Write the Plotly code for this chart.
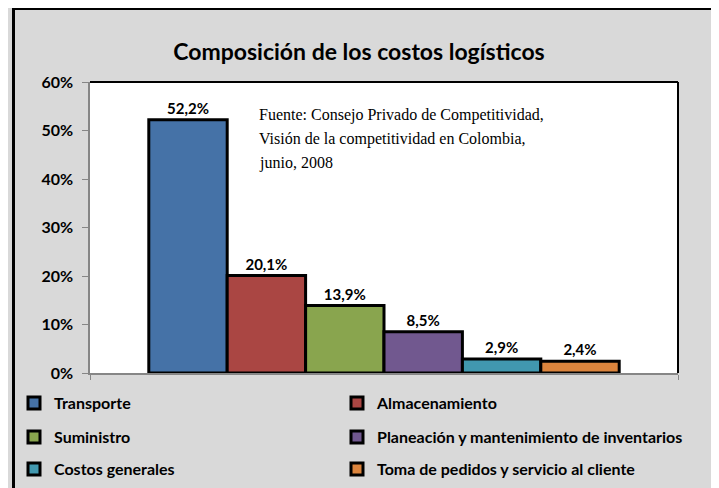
import plotly.graph_objects as go

# ---- data ----
categories = ["Transporte", "Almacenamiento", "Suministro",
              "Planeación y mantenimiento de inventarios",
              "Costos generales", "Toma de pedidos y servicio al cliente"]
values = [0.522, 0.201, 0.139, 0.085, 0.029, 0.024]
colors = ["#4572A7", "#AA4643", "#89A54E", "#71588F", "#4198AF", "#DB843D"]
tick_vals = [0, 0.1, 0.2, 0.3, 0.4, 0.5, 0.6]
title_text = "Composición de los costos logísticos"
source_lines = ["Fuente: Consejo Privado de Competitividad,",
                "Visión de la competitividad en Colombia,",
                "junio, 2008"]

# page body has an 8px margin; figure drawn from (8, 8)
OFF = 8
W, H = 719 - OFF, 488 - OFF
# plot area in page pixels
PL, PR, PT, PB = 90, 678, 82, 373
L, R, T, B = PL - OFF, W - (PR - OFF), PT - OFF, H - (PB - OFF)
PW, PH = W - L - R, H - T - B

def px(x):  # page x -> paper
    return (x - PL) / PW

def py(y):  # page y -> paper
    return (PB - y) / PH

def cx(x):  # page x -> container fraction
    return (x - OFF) / W

def cy(y):  # page y -> container fraction
    return 1 - (y - OFF) / H

FONT = "Lato, 'Open Sans', sans-serif"

legend_pos = [(14, 403), (337, 403), (14, 437), (337, 437), (14, 469), (337, 469)]

fig = go.Figure()
layout_legends = {}
for i, (name, v, c) in enumerate(zip(categories, values, colors)):
    lname = "legend" if i == 0 else f"legend{i + 1}"
    fig.add_trace(go.Bar(
        x=[""], y=[v], name=name,
        marker=dict(color=c, line=dict(color="black", width=3)),
        texttemplate="<b>%{y:.1%}</b>", textposition="outside",
        textfont=dict(family=FONT, size=15, color="black"),
        cliponaxis=False,
        legend=lname,
        hoverinfo="skip",
    ))
    lx, ly = legend_pos[i]
    layout_legends[lname] = dict(
        orientation="v", xref="container", yref="container",
        x=cx(lx), xanchor="left", y=cy(ly), yanchor="middle",
        bgcolor="rgba(0,0,0,0)", borderwidth=0,
        font=dict(family=FONT, size=16, color="black", weight="bold"),
        itemclick=False, itemdoubleclick=False)

shapes = [
    # outer frame (left and top black edges)
    dict(type="line", xref="paper", yref="paper", x0=px(13.5), x1=px(13.5), y0=py(6), y1=py(520),
         line=dict(color="black", width=3)),
    dict(type="line", xref="paper", yref="paper", x0=px(12), x1=px(740), y0=py(8.5), y1=py(8.5),
         line=dict(color="black", width=3)),
    # plot area top/right border
    dict(type="line", xref="paper", yref="paper", x0=0, x1=1, y0=1, y1=1,
         line=dict(color="black", width=2)),
    dict(type="line", xref="paper", yref="paper", x0=1, x1=1, y0=0, y1=1,
         line=dict(color="black", width=2)),
]

annotations = []
for k, line in enumerate(source_lines):
    annotations.append(dict(
        text=line, xref="paper", yref="paper", x=px(257), y=py(115 + 24 * k),
        xanchor="left", yanchor="middle", showarrow=False, align="left",
        font=dict(family="'Liberation Serif', 'Times New Roman', serif", size=16, color="black")))

fig.update_layout(
    width=W, height=H,
    margin=dict(l=L, r=R, t=T, b=B, pad=0, autoexpand=False),
    paper_bgcolor="#D9D9D9", plot_bgcolor="white",
    separators=",.",
    barmode="group", bargap=0.2, bargroupgap=0,
    title=dict(text=title_text, x=cx(359), xref="container", xanchor="center",
               y=cy(52), yref="container", yanchor="middle",
               font=dict(family=FONT, size=23, color="black", weight="bold")),
    xaxis=dict(showticklabels=False, showline=True, linecolor="#868686", linewidth=1.5,
               ticks="outside", tickson="boundaries", ticklen=5, tickcolor="#868686",
               showgrid=False, zeroline=False, fixedrange=True),
    yaxis=dict(range=[0, 0.6], tickvals=tick_vals, tickformat=".0%",
               showline=True, linecolor="#868686", linewidth=1.5,
               ticks="outside", ticklen=6, tickcolor="#868686", tickwidth=1,
               ticklabelstandoff=6,
               showgrid=False, zeroline=False,
               tickfont=dict(family=FONT, size=16, color="black", weight="bold")),
    shapes=shapes,
    annotations=annotations,
    showlegend=True,
    **layout_legends,
)

fig.write_html("out.html")
